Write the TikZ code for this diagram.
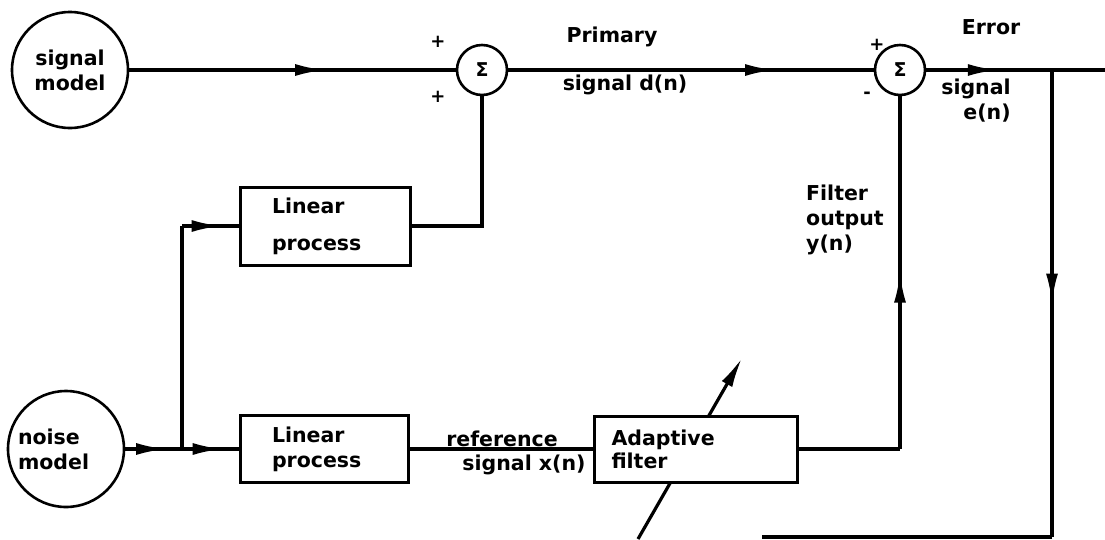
\documentclass[tikz,border=0pt]{standalone}
\usepackage{fontspec}
\setmainfont{DejaVu Sans}
\usetikzlibrary{arrows.meta,decorations.markings}
\begin{document}
\begin{tikzpicture}[x=1pt,y=-1pt,
  every node/.style={font=\fontsize{20.5}{25}\selectfont\bfseries, inner sep=0pt},
  conn/.style={line width=3.2pt},
  blk/.style={draw, rectangle, fill=white, line width=3pt},
  src/.style={draw, circle, minimum size=116pt, line width=2.6pt, align=center},
  sumnode/.style={draw, circle, minimum size=50pt, line width=2.6pt, font=\fontsize{19}{22}\selectfont\bfseries},
  sgn/.style={font=\fontsize{18}{20}\selectfont\bfseries},
  tip/.style={-{Latex[length=30pt,width=12pt]}},
  midarrow/.style={postaction={decorate}, decoration={markings, mark=at position #1 with {\arrow{Latex[length=30pt,width=12pt]}}}}
]
\useasboundingbox (0,0) rectangle (1105,539);
\fill[white] (0,0) rectangle (1105,539);

% adaptation arrow (behind the filter box)
\coordinate (adjS) at (638,539);
\coordinate (adjE) at (742,358);
\draw[conn, tip] (adjS) -- (adjE);

% nodes
\node[src] (sm) at (70,70) {signal\\model};
\node[src, align=left, text width=96pt] (nm) at (66,449) {noise\\model};
\node[sumnode] (s1) at (482,70) {Σ};
\node[sumnode] (s2) at (900,70) {Σ};
\node[blk, minimum width=170pt, minimum height=78pt, text width=106pt, inner xsep=32pt, align=left] (lp1) at (325,226) {Linear\\[12pt]process};
\node[blk, minimum width=168pt, minimum height=67pt, text width=104pt, inner xsep=32pt, align=left] (lp2) at (324,449) {Linear\\process};
\node[blk, minimum width=203pt, minimum height=66pt, text width=169pt, inner xsep=17pt, align=left] (af) at (696,449) {Adaptive\\[-2pt]filter};

% helper coordinates
\coordinate (out) at (1105,70);
\coordinate (br) at (1052,70);
\coordinate (bl) at (1052,537);
\coordinate (be) at (762,537);
\coordinate (j) at (182,449);
\coordinate (c1) at (182,226);
\coordinate (c2) at (900,449);

% connectors
\begin{scope}[conn]
\draw[midarrow=0.6] (sm) -- (s1);
\draw[midarrow=0.73] (s1) -- (s2);
\draw[midarrow=0.4] (s2) -- (out);
\draw[midarrow=0.5] (br) -- (bl);
\draw (bl) -- (be);
\draw[midarrow=0.72] (nm) -- (j);
\draw[midarrow=0.72] (j) -- (lp2);
\draw (j) -- (c1);
\draw[midarrow=0.7] (c1) -- (lp1);
\draw (lp1) -| (s1);
\draw (lp2) -- (af);
\draw (af) -- (c2);
\draw[midarrow=0.5] (c2) -- (s2);
\end{scope}

% labels
\node[sgn] (p1) at (438,42) {+};
\node[sgn] (p2) at (438,97) {+};
\node (prim) at (612,37) {Primary};
\node (dn) at (625,85) {signal d(n)};
\node[sgn] (p3) at (877,45) {+};
\node[sgn] (m1) at (867,95) {-};
\node (err) at (991,27) {Error};
\node[align=right] (en) at (976,101) {signal\\e(n)};
\node[align=left, anchor=west] (fo) at (806,220) {Filter\\output\\y(n)};
\node (ref) at (502,439) {reference};
\node (sx) at (524,465) {signal x(n)};
\end{tikzpicture}
\end{document}
